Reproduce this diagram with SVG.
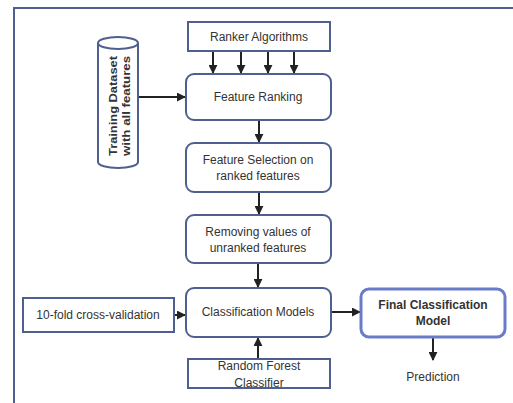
<svg xmlns="http://www.w3.org/2000/svg" width="513" height="403" viewBox="0 0 513 403">
  <style>
    text { font-family: "Liberation Sans", Arial, sans-serif; font-size: 12px; fill: #333; text-anchor: middle; }
    .box { fill: #fff; stroke: #4f5f8f; stroke-width: 2; }
    .final { fill: #fff; stroke: #6a7cc8; stroke-width: 3; }
    .edge { stroke: #222; stroke-width: 2; fill: none; marker-end: url(#arrow); }
    .bold { font-weight: bold; }
    .side { font-size: 11px; }
  </style>
  <defs>
    <marker id="arrow" viewBox="0 0 10 10" refX="9" refY="5" markerWidth="4.5" markerHeight="4.5" orient="auto" markerUnits="strokeWidth">
      <path d="M0,0 L10,5 L0,10 z" fill="#222"/>
    </marker>
  </defs>
  <rect width="513" height="403" fill="#fff"/>
  <!-- outer frame -->
  <path d="M14,403 V8 H513" fill="none" stroke="#4f5f8f" stroke-width="2"/>

  <g id="connectors">
    <line class="edge" x1="213" y1="51" x2="213" y2="73"/>
    <line class="edge" x1="241" y1="51" x2="241" y2="73"/>
    <line class="edge" x1="268" y1="51" x2="268" y2="73"/>
    <line class="edge" x1="294" y1="51" x2="294" y2="73"/>
    <line class="edge" x1="138" y1="97" x2="185" y2="97"/>
    <line class="edge" x1="259" y1="120" x2="259" y2="142"/>
    <line class="edge" x1="259" y1="192" x2="259" y2="214"/>
    <line class="edge" x1="258" y1="263" x2="258" y2="287"/>
    <line class="edge" x1="174" y1="315" x2="185" y2="315"/>
    <line class="edge" x1="258" y1="360" x2="258" y2="338"/>
    <line class="edge" x1="331" y1="312" x2="360" y2="312"/>
    <line class="edge" x1="433" y1="338" x2="433" y2="360"/>
  </g>

  <g id="ranker">
    <rect class="box" x="188" y="22" width="142" height="29"/>
    <text x="259" y="41">Ranker Algorithms</text>
  </g>

  <g id="dataset">
    <path class="box" d="M98,43 V162 A20,6 0 0 0 138,162 V43"/>
    <ellipse class="box" cx="118" cy="43" rx="20" ry="6"/>
    <text class="bold side" transform="translate(117,106) rotate(-90)" textLength="100" lengthAdjust="spacingAndGlyphs">Training Dataset</text>
    <text class="bold side" transform="translate(130,106) rotate(-90)" textLength="100" lengthAdjust="spacingAndGlyphs">with all features</text>
  </g>

  <g id="ranking">
    <rect class="box" x="186" y="74" width="145" height="46" rx="8"/>
    <text x="258" y="101">Feature Ranking</text>
  </g>

  <g id="selection">
    <rect class="box" x="186" y="143" width="145" height="49" rx="8"/>
    <text x="258" y="164">Feature Selection on</text>
    <text x="258" y="180">ranked features</text>
  </g>

  <g id="removing">
    <rect class="box" x="186" y="215" width="145" height="48" rx="8"/>
    <text x="258" y="236">Removing values of</text>
    <text x="258" y="252">unranked features</text>
  </g>

  <g id="cv">
    <rect class="box" x="23" y="298" width="151" height="34"/>
    <text x="98" y="319">10-fold cross-validation</text>
  </g>

  <g id="models">
    <rect class="box" x="186" y="288" width="145" height="49" rx="8"/>
    <text x="258" y="316">Classification Models</text>
  </g>

  <g id="forest">
    <rect class="box" x="188" y="359" width="142" height="29"/>
    <text x="259" y="370">Random Forest</text>
    <text x="259" y="387">Classifier</text>
  </g>

  <g id="final">
    <rect class="final" x="361" y="289" width="144" height="48" rx="8"/>
    <text class="bold" x="433" y="309">Final Classification</text>
    <text class="bold" x="433" y="325">Model</text>
  </g>

  <g id="prediction">
    <text x="433" y="381">Prediction</text>
  </g>
</svg>
